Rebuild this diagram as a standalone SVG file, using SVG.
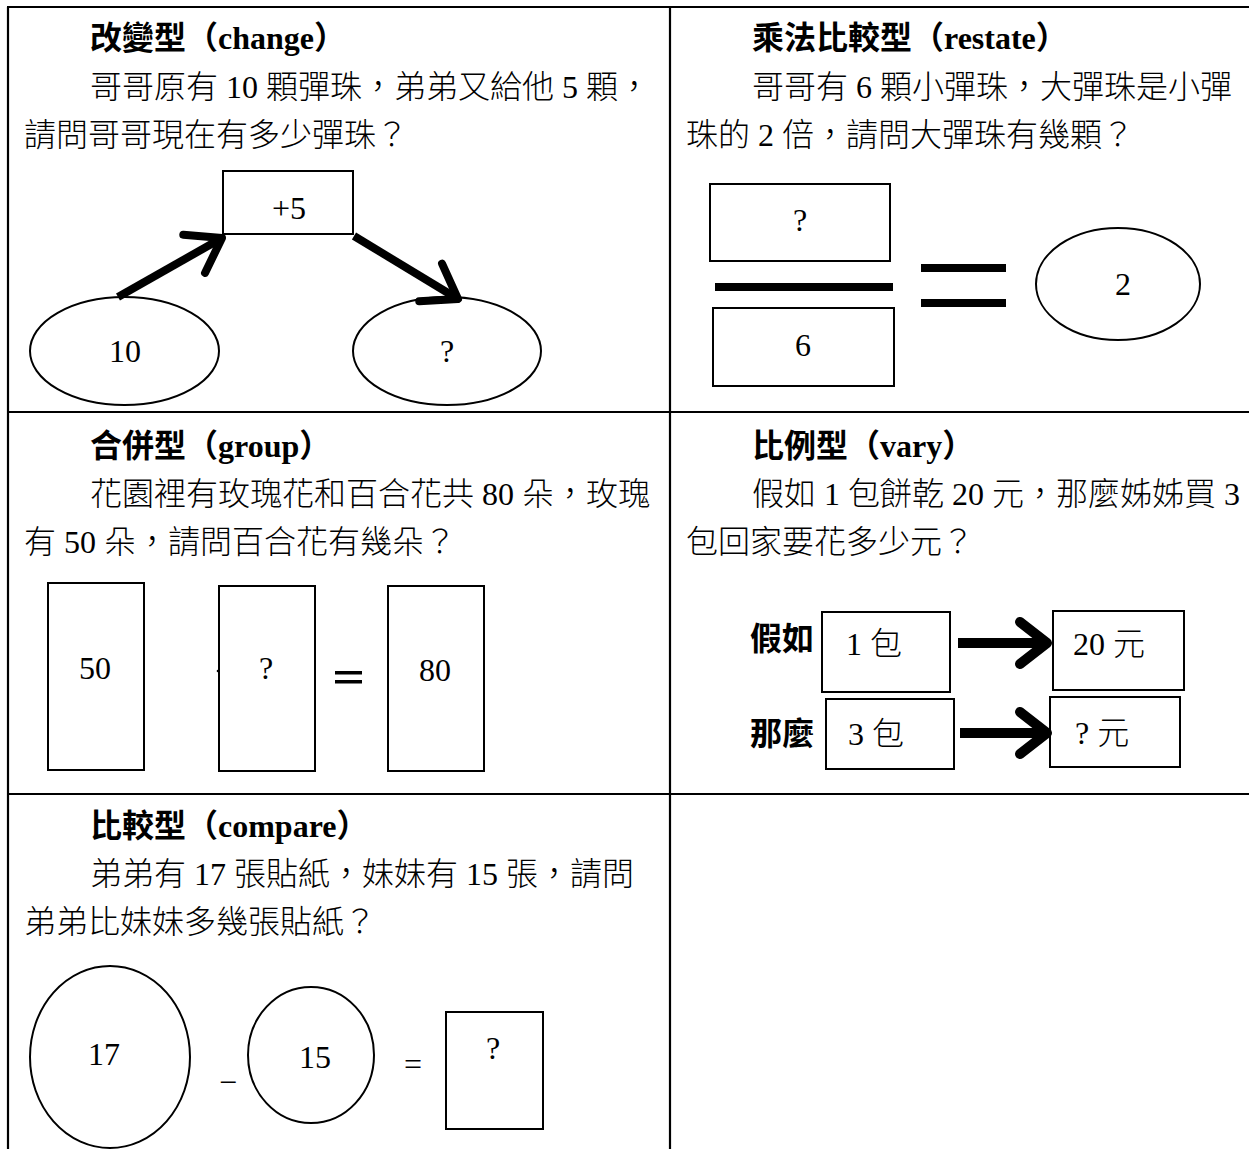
<svg xmlns="http://www.w3.org/2000/svg" width="1249" height="1149" viewBox="0 0 1249 1149">
<style>
  .grid { stroke:#000; stroke-width:2.2; fill:none; }
  .shape { stroke:#000; stroke-width:2; fill:#fff; }
  .txt { font-family:"Liberation Serif","Noto Sans CJK TC",serif; font-size:32px; font-weight:300; fill:#000; }
  .ttl { font-family:"Liberation Serif","Noto Sans CJK TC",serif; font-size:32px; font-weight:bold; fill:#000; }
  .bold { font-family:"Noto Sans CJK TC",sans-serif; font-size:32px; font-weight:bold; fill:#000; }
  .lbl { font-family:"Liberation Serif","Noto Sans CJK TC",serif; font-size:32px; fill:#000; text-anchor:middle; }
  .lbl2 { font-family:"Liberation Serif","Noto Sans CJK TC",serif; font-size:32px; font-weight:300; fill:#000; }
  .bar { fill:#000; }
  .conn { stroke:#000; stroke-width:8; fill:none; stroke-linecap:butt; }
  .conn2 { stroke:#000; stroke-width:10; fill:none; stroke-linecap:butt; }
  .head { stroke:#000; fill:none; stroke-linecap:round; stroke-linejoin:round; }
</style>
<defs>
  <marker id="chev" markerUnits="userSpaceOnUse" orient="auto" refX="0" refY="0" markerWidth="80" markerHeight="80" overflow="visible">
    <path class="head" stroke-width="8" d="M -32,-22 L 0,0 L -32,22"/>
  </marker>
  <marker id="chev2" markerUnits="userSpaceOnUse" orient="auto" refX="0" refY="0" markerWidth="80" markerHeight="80" overflow="visible">
    <path class="head" stroke-width="10" d="M -27,-21 L 0,0 L -27,21"/>
  </marker>
</defs>
<rect width="1249" height="1149" fill="#fff"/>

<g id="table">
  <line class="grid" x1="7" y1="7" x2="1249" y2="7"/>
  <line class="grid" x1="8" y1="7" x2="8" y2="1149"/>
  <line class="grid" x1="670" y1="7" x2="670" y2="1149"/>
  <line class="grid" x1="7" y1="412" x2="1249" y2="412"/>
  <line class="grid" x1="7" y1="794" x2="1249" y2="794"/>
</g>

<!-- Panel 1: change -->
<g id="panel-change-text">
  <text class="ttl" x="90" y="49">改變型（change）</text>
  <text class="txt" x="90" y="98">哥哥原有 10 顆彈珠，弟弟又給他 5 顆，</text>
  <text class="txt" x="24" y="146">請問哥哥現在有多少彈珠？</text>
</g>
<g id="node-plus5">
  <rect class="shape" x="223" y="171" width="130" height="63"/>
  <text class="lbl" x="289" y="219">+5</text>
</g>
<g id="node-10">
  <ellipse class="shape" cx="124.5" cy="351" rx="94.5" ry="54"/>
  <text class="lbl" x="125" y="362">10</text>
</g>
<g id="node-q1">
  <ellipse class="shape" cx="447" cy="351" rx="94" ry="54"/>
  <text class="lbl" x="447" y="362">?</text>
</g>

<!-- Panel 2: restate -->
<g id="panel-restate-text">
  <text class="ttl" x="752" y="49">乘法比較型（restate）</text>
  <text class="txt" x="752" y="98">哥哥有 6 顆小彈珠，大彈珠是小彈</text>
  <text class="txt" x="686" y="146">珠的 2 倍，請問大彈珠有幾顆？</text>
</g>
<g id="node-q2">
  <rect class="shape" x="710" y="184" width="180" height="77"/>
  <text class="lbl" x="800" y="231">?</text>
</g>
<g id="fraction-bar">
  <rect class="bar" x="715" y="283" width="178" height="8"/>
</g>
<g id="node-6">
  <rect class="shape" x="713" y="308" width="181" height="78"/>
  <text class="lbl" x="803" y="356">6</text>
</g>
<g id="equals-big">
  <rect class="bar" x="921" y="264" width="85" height="8"/>
  <rect class="bar" x="921" y="299" width="85" height="8"/>
</g>
<g id="node-2">
  <ellipse class="shape" cx="1118" cy="284" rx="82" ry="56"/>
  <text class="lbl" x="1123" y="295">2</text>
</g>

<!-- Panel 3: group -->
<g id="panel-group-text">
  <text class="ttl" x="90" y="457">合併型（group）</text>
  <text class="txt" x="90" y="505">花園裡有玫瑰花和百合花共 80 朵，玫瑰</text>
  <text class="txt" x="24" y="553">有 50 朵，請問百合花有幾朵？</text>
</g>
<g id="node-50">
  <rect class="shape" x="48" y="583" width="96" height="187"/>
  <text class="lbl" x="95" y="679">50</text>
</g>
<g id="node-q3">
  <rect class="shape" x="219" y="586" width="96" height="185"/>
  <circle cx="218" cy="671" r="1.3" fill="#000"/>
  <text class="lbl" x="266" y="679">?</text>
</g>
<g id="equals-group">
  <rect class="bar" x="335" y="671" width="27" height="3.5"/>
  <rect class="bar" x="335" y="680" width="27" height="3.5"/>
</g>
<g id="node-80">
  <rect class="shape" x="388" y="586" width="96" height="185"/>
  <text class="lbl" x="435" y="681">80</text>
</g>

<!-- Panel 4: vary -->
<g id="panel-vary-text">
  <text class="ttl" x="752" y="457">比例型（vary）</text>
  <text class="txt" x="752" y="505">假如 1 包餅乾 20 元，那麼姊姊買 3</text>
  <text class="txt" x="686" y="553">包回家要花多少元？</text>
  <text class="bold" x="750" y="650">假如</text>
  <text class="bold" x="750" y="745">那麼</text>
</g>
<g id="node-1bao">
  <rect class="shape" x="822" y="612" width="128" height="80"/>
  <text class="lbl2" x="846" y="655">1 包</text>
</g>
<g id="node-20yuan">
  <rect class="shape" x="1053" y="611" width="131" height="79"/>
  <text class="lbl2" x="1073" y="655">20 元</text>
</g>
<g id="node-3bao">
  <rect class="shape" x="826" y="699" width="128" height="70"/>
  <text class="lbl2" x="848" y="745">3 包</text>
</g>
<g id="node-qyuan">
  <rect class="shape" x="1050" y="697" width="130" height="70"/>
  <text class="lbl2" x="1075" y="744">? 元</text>
</g>

<!-- Panel 5: compare -->
<g id="panel-compare-text">
  <text class="ttl" x="90" y="837">比較型（compare）</text>
  <text class="txt" x="90" y="885">弟弟有 17 張貼紙，妹妹有 15 張，請問</text>
  <text class="txt" x="24" y="933">弟弟比妹妹多幾張貼紙？</text>
</g>
<g id="node-17">
  <ellipse class="shape" cx="110" cy="1057" rx="80" ry="91"/>
  <text class="lbl" x="104" y="1065">17</text>
</g>
<g id="minus">
  <text class="lbl" x="228" y="1093">−</text>
</g>
<g id="node-15">
  <ellipse class="shape" cx="311" cy="1055" rx="63" ry="68"/>
  <text class="lbl" x="315" y="1068">15</text>
</g>
<g id="equals-small">
  <text class="lbl" x="413" y="1075">=</text>
</g>
<g id="node-q5">
  <rect class="shape" x="446" y="1012" width="97" height="117"/>
  <text class="lbl" x="493" y="1059">?</text>
</g>

<g id="connectors">
  <line class="conn" x1="118" y1="297" x2="222" y2="238" marker-end="url(#chev)"/>
  <line class="conn" x1="354" y1="236" x2="458" y2="299" marker-end="url(#chev)"/>
  <line class="conn2" x1="958" y1="643" x2="1047" y2="643" marker-end="url(#chev2)"/>
  <line class="conn2" x1="960" y1="733" x2="1047" y2="733" marker-end="url(#chev2)"/>
</g>
</svg>
